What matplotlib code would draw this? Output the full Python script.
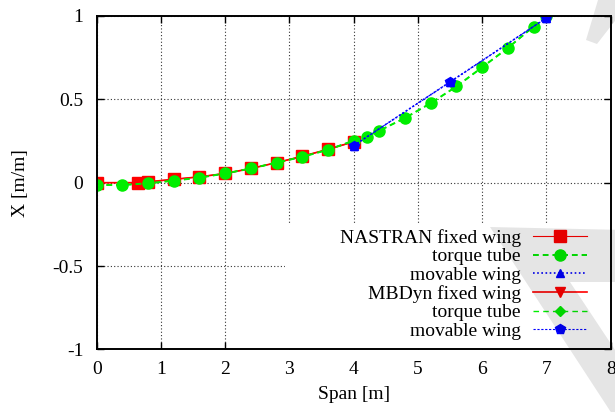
import matplotlib
matplotlib.use("Agg")
import matplotlib.pyplot as plt
from matplotlib.patches import Polygon, Rectangle
from matplotlib.ticker import FuncFormatter, MultipleLocator

plt.rcParams['font.family'] = ['Liberation Serif', 'DejaVu Serif']
plt.rcParams['font.size'] = 14
plt.rcParams['axes.unicode_minus'] = False

# NASTRAN
nastran_fixed_x = [0.0, 0.65, 0.8, 1.2, 1.6, 2.0, 2.4, 2.8, 3.2, 3.6, 4.0]
nastran_fixed_y = [0.0, 0.0, 0.005, 0.02, 0.035, 0.055, 0.085, 0.12, 0.158, 0.2, 0.245]
nastran_tube_x = [0.0, 0.4, 0.8, 1.2, 1.6, 2.0, 2.4, 2.8, 3.2, 3.6, 4.0,
                  4.2, 4.4, 4.8, 5.2, 5.6, 6.0, 6.4, 6.8, 7.0]
nastran_tube_y = [-0.014, -0.014, -0.004, 0.012, 0.03, 0.055, 0.085, 0.12, 0.155, 0.197, 0.252,
                  0.276, 0.312, 0.388, 0.477, 0.577, 0.692, 0.808, 0.936, 1.0]
nastran_mov_x = [4.0, 5.5, 7.0]
nastran_mov_y = [0.222, 0.604, 0.988]

# MBDyn
mbdyn_fixed_x = [0.0, 0.65, 0.8, 1.2, 1.6, 2.0, 2.4, 2.8, 3.2, 3.6, 4.0]
mbdyn_fixed_y = [0.0, 0.0, 0.005, 0.02, 0.035, 0.055, 0.085, 0.12, 0.158, 0.2, 0.245]
mbdyn_tube_x = [0.0, 0.4, 0.8, 1.2, 1.6, 2.0, 2.4, 2.8, 3.2, 3.6, 4.0,
                4.2, 4.4, 4.8, 5.2, 5.6, 6.0, 6.4, 6.8, 7.0]
mbdyn_tube_y = [-0.014, -0.014, -0.004, 0.012, 0.03, 0.055, 0.085, 0.12, 0.155, 0.197, 0.252,
                0.276, 0.312, 0.388, 0.477, 0.577, 0.692, 0.808, 0.936, 1.0]
mbdyn_mov_x = [4.0, 5.5, 7.0]
mbdyn_mov_y = [0.222, 0.604, 0.988]

rojo = '#ff0000'
verde = '#00ee00'
azul = '#0000ff'

fig = plt.figure(figsize=(6.15, 4.12), dpi=100)
ax = fig.add_axes([0.1572, 0.1519, 0.8358, 0.8095])

# series escondidas primero (quedan debajo)
l4, = ax.plot(mbdyn_fixed_x, mbdyn_fixed_y, color=rojo, lw=1.2, marker='v', ms=6.5, zorder=2.0)
l5, = ax.plot(mbdyn_tube_x, mbdyn_tube_y, color=verde, lw=1.0, ls=(0, (4, 3)), marker='D', ms=5, zorder=2.1)
l1, = ax.plot(nastran_fixed_x, nastran_fixed_y, color=rojo, lw=0.8, marker='s', ms=9, zorder=2.2)
l2, = ax.plot(nastran_tube_x, nastran_tube_y, color=verde, lw=1.4, ls=(0, (3, 2)), marker='o', ms=8, zorder=2.3)
l3, = ax.plot(nastran_mov_x, nastran_mov_y, color=azul, lw=1.2, ls=(0, (1, 1.5)), marker='^', ms=6, zorder=2.4)
l6, = ax.plot(mbdyn_mov_x, mbdyn_mov_y, color=azul, lw=0.8, ls=(0, (2, 1.5)), marker='p', ms=7, zorder=2.5)

ax.set_xlim(0, 8)
ax.set_ylim(-1, 1)
ax.xaxis.set_major_locator(MultipleLocator(1))
ax.yaxis.set_major_locator(MultipleLocator(0.5))
ax.yaxis.set_major_formatter(FuncFormatter(lambda v, p: '%g' % v))
ax.tick_params(direction='in', top=True, right=True, length=5, width=1)
ax.tick_params(axis='x', pad=8)
ax.tick_params(axis='y', pad=9.5)
ax.grid(True, color='0.2', ls=(0, (1, 2)), lw=0.8)
for s in ax.spines.values():
    s.set_linewidth(1.4)

# fondo blanco de la leyenda tapa la grilla
ax.add_patch(Rectangle((0.366, 0.0), 0.634, 0.373, transform=ax.transAxes,
                       facecolor='white', edgecolor='none', zorder=1.6))

ax.set_xlabel('Span [m]', labelpad=6)
ax.set_ylabel('X [m/m]')
ax.yaxis.set_label_coords(-0.131, 0.5)

leg = ax.legend([l1, l2, l3, l4, l5, l6],
                ['NASTRAN fixed wing', 'torque tube', 'movable wing',
                 'MBDyn fixed wing', 'torque tube', 'movable wing'],
                loc='lower right', bbox_to_anchor=(0.954, 0.028), borderpad=0,
                borderaxespad=0, frameon=False, markerfirst=False,
                handlelength=2.8, handletextpad=0.6, labelspacing=0.05)

# marca de agua gris
W, H = 615.0, 412.0
def px(pts):
    return [(x / W, 1 - y / H) for x, y in pts]

marcas = [
    [(598, 0), (625, 0), (625, 8), (597, 44), (586, 40)],
    [(490, 227), (625, 230), (625, 282), (570, 282), (625, 365), (625, 420), (616, 420)],
]
for m in marcas:
    fig.patches.append(Polygon(px(m), closed=True, transform=fig.transFigure,
                               facecolor='k', alpha=0.1, edgecolor='none', zorder=5))

fig.savefig('out.png', dpi=100)
